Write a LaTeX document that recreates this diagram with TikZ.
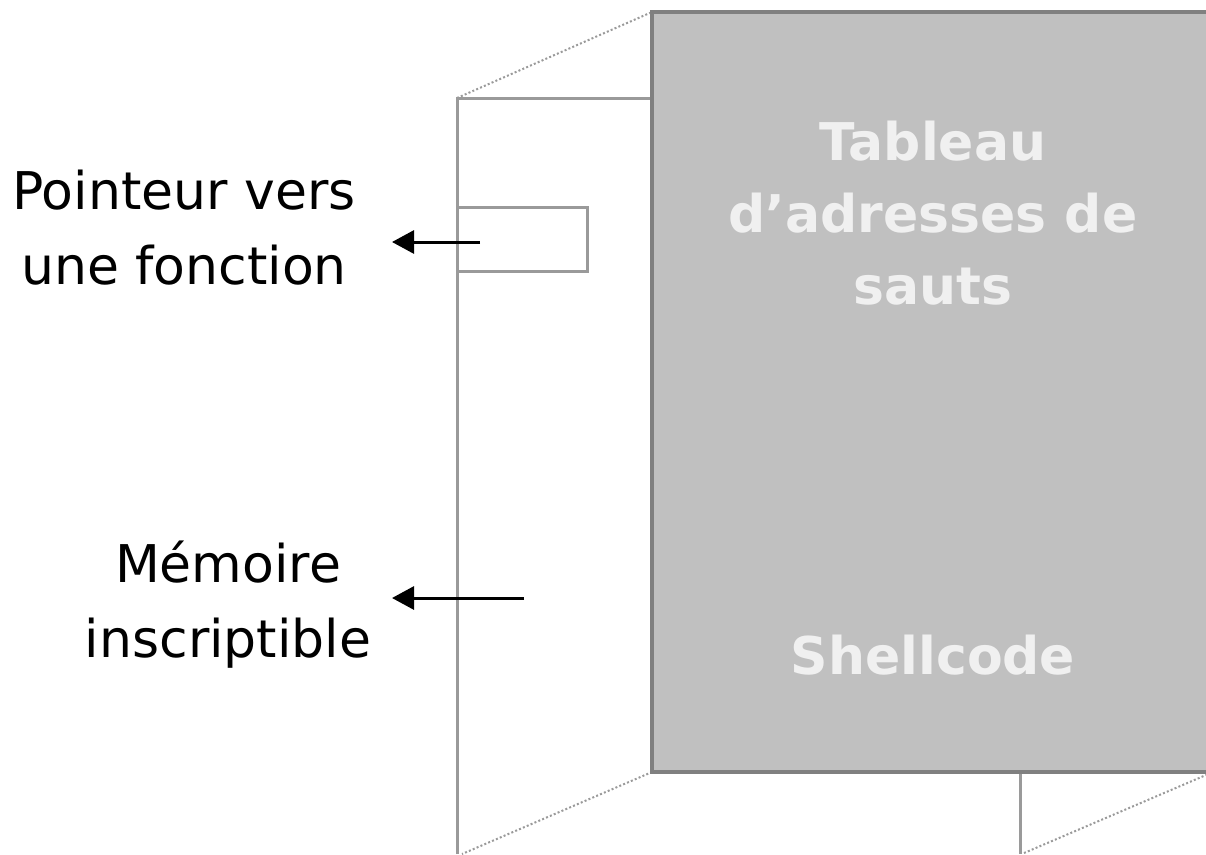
\documentclass[tikz,border=0pt]{standalone}
\usepackage{fontspec}
\setmainfont{DejaVu Sans}
\usetikzlibrary{arrows.meta}
\definecolor{panelline}{HTML}{9A9A9A}
\definecolor{blockfill}{HTML}{C0C0C0}
\definecolor{blockline}{HTML}{808080}
\definecolor{blocktext}{HTML}{F0F0F0}
\tikzset{
  panel/.style={draw=panelline, line width=3pt},
  perspective/.style={draw=panelline, line width=2pt, dash pattern=on 2pt off 2.2pt},
  pointer/.style={draw=black, line width=3pt, -{Triangle[length=22pt,width=23pt]}},
  sidelabel/.style={align=center, font=\fontsize{52}{75}\selectfont, text=black},
  blocklabel/.style={align=center, font=\fontsize{52}{72}\selectfont\bfseries, text=blocktext},
}
\begin{document}
\begin{tikzpicture}[x=1pt, y=-1pt]
  \useasboundingbox (0,0) rectangle (1206,854);

  % writable memory page seen in perspective
  \coordinate (pTL) at (457,98);
  \coordinate (pBL) at (457,854);
  \coordinate (bTL) at (652,12);
  \coordinate (bBL) at (652,772);
  \coordinate (rTop) at (1020,772);
  \coordinate (rBot) at (1020,854);
  \coordinate (lowL) at (462,854);
  \coordinate (farR) at (1206,775);
  \coordinate (farB) at (1024,853);

  \draw[panel] (pBL) -- (pTL) -- (pTL -| bTL);
  \draw[panel] (rTop) -- (rBot);
  \draw[perspective] (pTL) -- (bTL);
  \draw[perspective] (bBL) -- (lowL);
  \draw[perspective] (farB) -- (farR);

  % function pointer slot
  \draw[panel] (457,207) -- (587,207) -- (587,271) -- (457,271);

  % shellcode block
  \fill[blockfill] (652,12) rectangle (1206,772);
  \draw[blockline, line width=3.5pt] (1206,12) -- (652,12) -- (652,772) -- (1206,772);

  \node[blocklabel] (table) at (933,213) {Tableau\\d’adresses de\\sauts};
  \node[blocklabel] (shell) at (933,655) {Shellcode};

  % labels and pointers
  \node[sidelabel] (ptr) at (184,228) {Pointeur vers\\une fonction};
  \node[sidelabel] (mem) at (228,605) {Mémoire\\inscriptible};

  \coordinate (ptrStart) at (480,242);
  \coordinate (ptrEnd) at (392,242);
  \coordinate (memStart) at (524,598);
  \coordinate (memEnd) at (392,598);
  \draw[pointer] (ptrStart) -- (ptrEnd);
  \draw[pointer] (memStart) -- (memEnd);
\end{tikzpicture}
\end{document}
